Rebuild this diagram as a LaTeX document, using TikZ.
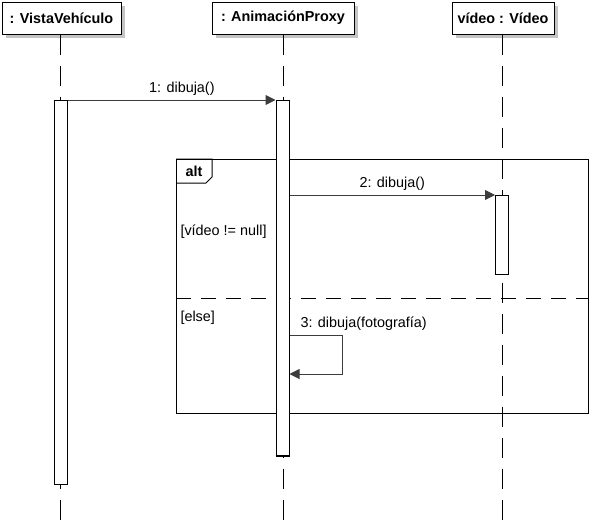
\documentclass[tikz,border=0pt]{standalone}
\usepackage{fontspec}
\setmainfont{Liberation Sans}
\usetikzlibrary{positioning,arrows.meta,shapes,shadows}
\definecolor{shadowgray}{HTML}{c4c4c4}
\definecolor{arrowgray}{HTML}{3c3c3c}

\begin{document}
\begin{tikzpicture}[x=1pt,y=-1pt,line width=1pt,
    font=\fontsize{14.4}{16}\selectfont,
    head/.style={draw,fill=white,inner sep=0pt,minimum height=32pt,
        font=\bfseries\fontsize{14.4}{16}\selectfont,
        drop shadow={shadow xshift=4pt,shadow yshift=-4pt,fill=shadowgray,opacity=1}},
    lifeline/.style={dash pattern=on 20pt off 11pt},
    activebar/.style={draw,fill=white,inner sep=0pt,minimum width=13pt,anchor=north},
    msg/.style={arrowgray,-{Triangle[length=10pt,width=10pt]}},
    guard/.style={anchor=west,inner sep=0pt}]

    \useasboundingbox (0,0) rectangle (590,525);

    % objects
    \node[head,minimum width=119pt] (vista) at (61.5,18) {: VistaVehículo};
    \node[head,minimum width=142pt] (proxy) at (283,18) {: AnimaciónProxy};
    \node[head,minimum width=102pt] (video) at (503,18) {vídeo : Vídeo};

    \draw[lifeline] (vista.south -| 60,0) -- (60,525);
    \draw[lifeline] (proxy.south) -- (proxy.south |- 0,525);
    \draw[lifeline] (video.south -| 502,0) -- (502,525);

    % alt fragment
    \node[draw,minimum width=412pt,minimum height=254pt,inner sep=0pt,
        anchor=north west] (altframe) at (176,159) {};
    \draw (altframe.north west) -- ++(36,0) -- ++(0,18) -- ++(-6,6)
        -- (altframe.west |- 0,183);
    \node[font=\bfseries\fontsize{14.4}{16}\selectfont] (alttag) at (194,171) {alt};
    \draw[dash pattern=on 15pt off 10pt] (altframe.west |- 0,298) -- (altframe.east |- 0,298);
    \node[guard] (notnull) at (180,232) {[vídeo != null]};
    \node[guard] (else) at (180,318) {[else]};

    % activations
    \node[activebar,minimum height=384pt] (barV) at (60.5,100) {};
    \node[activebar,minimum height=355pt] (barP) at (282.5,100) {};
    \draw[line width=1.8pt] (barP.south west) -- (barP.south east);
    \node[activebar,minimum height=79pt] (barW) at (502,195) {};

    % messages
    \draw[msg] (barV.north east) -- node[pos=0.55,above=1pt,black] (m1) {1: dibuja()} (barP.north west);
    \draw[msg] (barP.east |- barW.north) -- node[above=1pt,black] (m2) {2: dibuja()} (barW.north west);
    \coordinate (selfout) at (barP.east |- 0,335);
    \coordinate (selfin) at (barP.east |- 0,374);
    \draw[msg] (selfout) -- ++(53,0) -- ++(0,39) -- (selfin);
    \node[anchor=south west,inner sep=0pt] (m3) at (300,331) {3: dibuja(fotografía)};
\end{tikzpicture}
\end{document}
